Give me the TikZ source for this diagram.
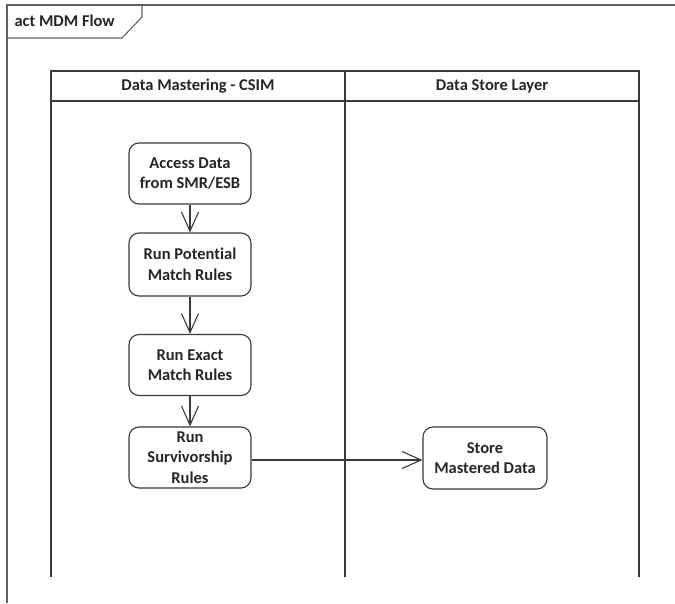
\documentclass[tikz,border=0pt]{standalone}
\usepackage{fontspec}
\setmainfont{Carlito}[Ligatures=NoCommon]
\usetikzlibrary{arrows.meta}
\definecolor{ln}{HTML}{3A3A3A}
\begin{document}
\begin{tikzpicture}[x=1pt,y=-1pt,
  act/.style={draw=ln,line width=1.1pt,rounded corners=10pt,minimum width=122pt,minimum height=61pt,align=center,font=\bfseries\fontsize{16.5}{20.5}\selectfont,inner sep=1pt,text=black!85},
  lane/.style={draw=ln,line width=1.1pt},
  flow/.style={draw=ln,line width=1.1pt,-{Straight Barb[length=19pt,width=17pt,line width=1.1pt]}},
  hdr/.style={font=\bfseries\fontsize{16.5}{20}\selectfont,text=black!85}]
\useasboundingbox (0,0) rectangle (675,603);
\fill[white] (0,0) rectangle (675,603);
% frame
\draw[lane,draw=ln!80] (7,603) -- (7,5) -- (676,5);
\draw[lane,draw=ln!80] (7,38) -- (122,38) -- (142,17) -- (142,5);
\node[hdr,anchor=west] (frame) at (11,21) {act MDM Flow};
% swimlanes
\draw[lane] (51,577) -- (51,71) -- (639,71) -- (639,577);
\draw[lane] (51,101) -- (639,101);
\draw[lane] (345,71) -- (345,577);
\node[hdr] (h1) at (198,86) {Data Mastering - CSIM};
\node[hdr] (h2) at (492,86) {Data Store Layer};
% activities
\node[act] (a1) at (190,173.5) {Access Data\\from SMR/ESB};
\node[act,minimum height=63pt] (a2) at (190,264.5) {Run Potential\\Match Rules};
\node[act] (a3) at (190,365) {Run Exact\\Match Rules};
\node[act] (a4) at (190,457.5) {Run\\Survivorship\\Rules};
\node[act,minimum width=124pt,minimum height=62pt] (a5) at (485,458) {Store\\Mastered Data};
% flows
\draw[flow] (a1) -- (a2);
\draw[flow] (a2) -- (a3);
\draw[flow] (a3) -- (a4);
\draw[flow] (a4.east |- 0,460) -- (a5.west |- 0,460);
\end{tikzpicture}
\end{document}
